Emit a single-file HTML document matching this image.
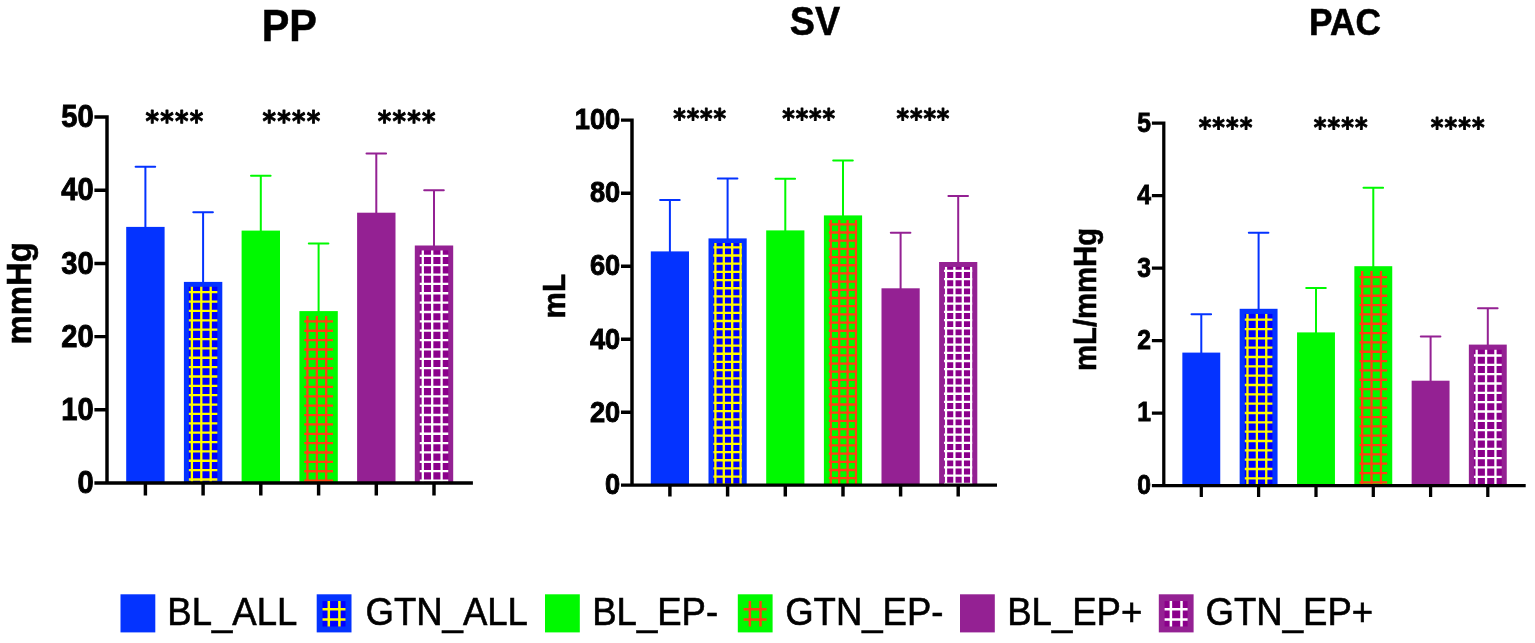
<!DOCTYPE html>
<html lang="en"><head><meta charset="utf-8"><title>PP, SV, PAC bar charts</title>
<style>html,body{margin:0;padding:0;background:#fff;}body{width:1535px;height:643px;overflow:hidden;}svg{display:block;}text{font-family:"Liberation Sans",sans-serif;fill:#000;}.tk{font-weight:bold;text-anchor:end;}.ti{font-weight:bold;text-anchor:middle;}.yl{font-weight:bold;text-anchor:middle;}.st{font-family:"DejaVu Sans","Liberation Sans",sans-serif;font-weight:bold;stroke:#000;stroke-width:0.9px;stroke-linejoin:round;stroke-linecap:round;}.lg{stroke:#000;stroke-width:0.6px;}.ti,.yl{stroke:#000;stroke-width:0.55px;}.tk{stroke:#000;stroke-width:0.9px;}</style></head><body>
<svg width="1535" height="643" viewBox="0 0 1535 643">
<rect width="1535" height="643" fill="#fff"/>
<g id="chart-a">
<text class="ti" style="font-size:44.99px" transform="translate(289.3 40.8) scale(0.92 1)">PP</text>
<text class="yl" style="font-size:34.32px" transform="translate(30.5 293.3) rotate(-90) scale(0.96 1)">mmHg</text>
<path d="M145.4 229.9V166.8M135.6 166.8H155.2" stroke="#0433ff" stroke-width="2" stroke-linecap="round" fill="none"/>
<rect x="126.2" y="226.9" width="38.4" height="256.1" fill="#0433ff"/>
<path d="M203.1 284.9V212.3M193.3 212.3H212.9" stroke="#0433ff" stroke-width="2" stroke-linecap="round" fill="none"/>
<rect x="183.9" y="281.9" width="38.4" height="201.1" fill="#0433ff"/>
<clipPath id="cpa1"><rect x="188.6" y="286.6" width="29" height="196.4"/></clipPath>
<g clip-path="url(#cpa1)">
<rect x="188.6" y="286.6" width="29" height="196.4" fill="#0000ff"/>
<path d="M191.9 286.6V483M201.3 286.6V483M210.7 286.6V483M188.6 292.2H217.6M188.6 301.56H217.6M188.6 310.93H217.6M188.6 320.3H217.6M188.6 329.66H217.6M188.6 339.03H217.6M188.6 348.39H217.6M188.6 357.76H217.6M188.6 367.12H217.6M188.6 376.49H217.6M188.6 385.85H217.6M188.6 395.22H217.6M188.6 404.58H217.6M188.6 413.95H217.6M188.6 423.31H217.6M188.6 432.68H217.6M188.6 442.04H217.6M188.6 451.41H217.6M188.6 460.77H217.6M188.6 470.14H217.6M188.6 479.5H217.6" stroke="#fffb00" stroke-width="2.3" fill="none"/>
</g>
<path d="M260.8 233.6V175.7M251 175.7H270.6" stroke="#00f900" stroke-width="2" stroke-linecap="round" fill="none"/>
<rect x="241.6" y="230.6" width="38.4" height="252.4" fill="#00f900"/>
<path d="M318.6 314.1V243.4M308.8 243.4H328.4" stroke="#00f900" stroke-width="2" stroke-linecap="round" fill="none"/>
<rect x="299.4" y="311.1" width="38.4" height="171.9" fill="#00f900"/>
<clipPath id="cpa3"><rect x="304.1" y="315.8" width="29" height="167.2"/></clipPath>
<g clip-path="url(#cpa3)">
<path d="M307.4 315.8V483M316.8 315.8V483M326.2 315.8V483M304.1 321.4H333.1M304.1 330.77H333.1M304.1 340.13H333.1M304.1 349.5H333.1M304.1 358.86H333.1M304.1 368.23H333.1M304.1 377.59H333.1M304.1 386.96H333.1M304.1 396.32H333.1M304.1 405.69H333.1M304.1 415.05H333.1M304.1 424.42H333.1M304.1 433.78H333.1M304.1 443.15H333.1M304.1 452.51H333.1M304.1 461.88H333.1M304.1 471.24H333.1M304.1 480.61H333.1" stroke="#ff4013" stroke-width="2.3" fill="none"/>
</g>
<path d="M376.3 215.7V153.6M366.5 153.6H386.1" stroke="#942193" stroke-width="2" stroke-linecap="round" fill="none"/>
<rect x="357.1" y="212.7" width="38.4" height="270.3" fill="#942193"/>
<path d="M434 248.5V190.2M424.2 190.2H443.8" stroke="#942193" stroke-width="2" stroke-linecap="round" fill="none"/>
<rect x="414.8" y="245.5" width="38.4" height="237.5" fill="#942193"/>
<clipPath id="cpa5"><rect x="419.5" y="250.2" width="29" height="232.8"/></clipPath>
<g clip-path="url(#cpa5)">
<rect x="419.5" y="250.2" width="29" height="232.8" fill="#8b008b"/>
<path d="M422.8 250.2V483M432.2 250.2V483M441.6 250.2V483M419.5 255.8H448.5M419.5 265.17H448.5M419.5 274.53H448.5M419.5 283.9H448.5M419.5 293.26H448.5M419.5 302.63H448.5M419.5 311.99H448.5M419.5 321.36H448.5M419.5 330.72H448.5M419.5 340.09H448.5M419.5 349.45H448.5M419.5 358.82H448.5M419.5 368.18H448.5M419.5 377.55H448.5M419.5 386.91H448.5M419.5 396.28H448.5M419.5 405.64H448.5M419.5 415.01H448.5M419.5 424.37H448.5M419.5 433.74H448.5M419.5 443.1H448.5M419.5 452.47H448.5M419.5 461.83H448.5M419.5 471.2H448.5M419.5 480.56H448.5" stroke="#ffffff" stroke-width="2.3" fill="none"/>
</g>
<path d="M107 115.2V484.73M105.28 483H472.9M94.4 117H107M94.4 190.2H107M94.4 263.4H107M94.4 336.6H107M94.4 409.8H107M94.4 483H107M145.4 483V495.5M203.1 483V495.5M260.8 483V495.5M318.6 483V495.5M376.3 483V495.5M434 483V495.5" stroke="#000" stroke-width="3.45" fill="none"/>
<text class="tk" style="font-size:31px" transform="translate(93.68 127.11) scale(0.94 1)">50</text>
<text class="tk" style="font-size:31px" transform="translate(93.68 200.31) scale(0.94 1)">40</text>
<text class="tk" style="font-size:31px" transform="translate(93.68 273.51) scale(0.94 1)">30</text>
<text class="tk" style="font-size:31px" transform="translate(93.68 346.71) scale(0.94 1)">20</text>
<text class="tk" style="font-size:31px" transform="translate(93.68 419.91) scale(0.94 1)">10</text>
<text class="tk" style="font-size:31px" transform="translate(93.68 493.11) scale(0.94 1)">0</text>
<text class="st" style="font-size:28.6px" transform="translate(145.49 131.03) scale(0.9 1)" x="0 16.42 32.84 49.26" y="0">****</text>
<text class="st" style="font-size:28.6px" transform="translate(262.54 131.03) scale(0.9 1)" x="0 16.42 32.84 49.26" y="0">****</text>
<text class="st" style="font-size:28.6px" transform="translate(377.74 131.03) scale(0.9 1)" x="0 16.42 32.84 49.26" y="0">****</text>
</g>
<g id="chart-b">
<text class="ti" style="font-size:40.99px" transform="translate(815 34.9) scale(0.92 1)">SV</text>
<text class="yl" style="font-size:30.89px" transform="translate(565.4 296.2) rotate(-90) scale(0.96 1)">mL</text>
<path d="M669.9 254.4V200M660.1 200H679.7" stroke="#0433ff" stroke-width="2" stroke-linecap="round" fill="none"/>
<rect x="650.8" y="251.4" width="38.2" height="233.7" fill="#0433ff"/>
<path d="M727.6 241.4V178.4M717.8 178.4H737.4" stroke="#0433ff" stroke-width="2" stroke-linecap="round" fill="none"/>
<rect x="708.5" y="238.4" width="38.2" height="246.7" fill="#0433ff"/>
<clipPath id="cpb1"><rect x="713.2" y="243.1" width="28.8" height="242"/></clipPath>
<g clip-path="url(#cpb1)">
<rect x="713.2" y="243.1" width="28.8" height="242" fill="#0000ff"/>
<path d="M715.4 243.1V485.1M723.8 243.1V485.1M732.2 243.1V485.1M740.6 243.1V485.1M713.2 247.3H742M713.2 255.49H742M713.2 263.68H742M713.2 271.87H742M713.2 280.06H742M713.2 288.25H742M713.2 296.44H742M713.2 304.63H742M713.2 312.82H742M713.2 321.01H742M713.2 329.2H742M713.2 337.39H742M713.2 345.58H742M713.2 353.77H742M713.2 361.96H742M713.2 370.15H742M713.2 378.34H742M713.2 386.53H742M713.2 394.72H742M713.2 402.91H742M713.2 411.1H742M713.2 419.29H742M713.2 427.48H742M713.2 435.67H742M713.2 443.86H742M713.2 452.05H742M713.2 460.24H742M713.2 468.43H742M713.2 476.62H742M713.2 484.81H742" stroke="#fffb00" stroke-width="2.3" fill="none"/>
</g>
<path d="M785.3 233.4V178.7M775.5 178.7H795.1" stroke="#00f900" stroke-width="2" stroke-linecap="round" fill="none"/>
<rect x="766.2" y="230.4" width="38.2" height="254.7" fill="#00f900"/>
<path d="M843 218.4V160.4M833.2 160.4H852.8" stroke="#00f900" stroke-width="2" stroke-linecap="round" fill="none"/>
<rect x="823.9" y="215.4" width="38.2" height="269.7" fill="#00f900"/>
<clipPath id="cpb3"><rect x="828.6" y="220.1" width="28.8" height="265"/></clipPath>
<g clip-path="url(#cpb3)">
<path d="M830.8 220.1V485.1M839.2 220.1V485.1M847.6 220.1V485.1M856 220.1V485.1M828.6 224.3H857.4M828.6 232.49H857.4M828.6 240.68H857.4M828.6 248.87H857.4M828.6 257.06H857.4M828.6 265.25H857.4M828.6 273.44H857.4M828.6 281.63H857.4M828.6 289.82H857.4M828.6 298.01H857.4M828.6 306.2H857.4M828.6 314.39H857.4M828.6 322.58H857.4M828.6 330.77H857.4M828.6 338.96H857.4M828.6 347.15H857.4M828.6 355.34H857.4M828.6 363.53H857.4M828.6 371.72H857.4M828.6 379.91H857.4M828.6 388.1H857.4M828.6 396.29H857.4M828.6 404.48H857.4M828.6 412.67H857.4M828.6 420.86H857.4M828.6 429.05H857.4M828.6 437.24H857.4M828.6 445.43H857.4M828.6 453.62H857.4M828.6 461.81H857.4M828.6 470H857.4M828.6 478.19H857.4" stroke="#ff4013" stroke-width="2.3" fill="none"/>
</g>
<path d="M900.6 291.3V232.8M890.8 232.8H910.4" stroke="#942193" stroke-width="2" stroke-linecap="round" fill="none"/>
<rect x="881.5" y="288.3" width="38.2" height="196.8" fill="#942193"/>
<path d="M958.2 265V196.1M948.4 196.1H968" stroke="#942193" stroke-width="2" stroke-linecap="round" fill="none"/>
<rect x="939.1" y="262" width="38.2" height="223.1" fill="#942193"/>
<clipPath id="cpb5"><rect x="943.8" y="266.7" width="28.8" height="218.4"/></clipPath>
<g clip-path="url(#cpb5)">
<rect x="943.8" y="266.7" width="28.8" height="218.4" fill="#8b008b"/>
<path d="M946 266.7V485.1M954.4 266.7V485.1M962.8 266.7V485.1M971.2 266.7V485.1M943.8 270.9H972.6M943.8 279.09H972.6M943.8 287.28H972.6M943.8 295.47H972.6M943.8 303.66H972.6M943.8 311.85H972.6M943.8 320.04H972.6M943.8 328.23H972.6M943.8 336.42H972.6M943.8 344.61H972.6M943.8 352.8H972.6M943.8 360.99H972.6M943.8 369.18H972.6M943.8 377.37H972.6M943.8 385.56H972.6M943.8 393.75H972.6M943.8 401.94H972.6M943.8 410.13H972.6M943.8 418.32H972.6M943.8 426.51H972.6M943.8 434.7H972.6M943.8 442.89H972.6M943.8 451.08H972.6M943.8 459.27H972.6M943.8 467.46H972.6M943.8 475.65H972.6M943.8 483.84H972.6" stroke="#ffffff" stroke-width="2.3" fill="none"/>
</g>
<path d="M632 118.4V486.83M630.27 485.1H997M621 120.1H632M621 193.2H632M621 266.2H632M621 339.3H632M621 412.3H632M621 485.1H632M669.9 485.1V496.6M727.6 485.1V496.6M785.3 485.1V496.6M843 485.1V496.6M900.6 485.1V496.6M958.2 485.1V496.6" stroke="#000" stroke-width="3.45" fill="none"/>
<text class="tk" style="font-size:29px" transform="translate(620.22 129.31) scale(0.94 1)">100</text>
<text class="tk" style="font-size:29px" transform="translate(620.22 202.41) scale(0.94 1)">80</text>
<text class="tk" style="font-size:29px" transform="translate(620.22 275.41) scale(0.94 1)">60</text>
<text class="tk" style="font-size:29px" transform="translate(620.22 348.51) scale(0.94 1)">40</text>
<text class="tk" style="font-size:29px" transform="translate(620.22 421.51) scale(0.94 1)">20</text>
<text class="tk" style="font-size:29px" transform="translate(620.22 494.31) scale(0.94 1)">0</text>
<text class="st" style="font-size:26.6px" transform="translate(673.23 127.7) scale(0.9 1)" x="0 14.93 29.85 44.78" y="0">****</text>
<text class="st" style="font-size:26.6px" transform="translate(782.23 127.7) scale(0.9 1)" x="0 14.93 29.85 44.78" y="0">****</text>
<text class="st" style="font-size:26.6px" transform="translate(896.53 127.7) scale(0.9 1)" x="0 14.93 29.85 44.78" y="0">****</text>
</g>
<g id="chart-c">
<text class="ti" style="font-size:36.71px" transform="translate(1345 35.2) scale(0.96 1)">PAC</text>
<text class="yl" style="font-size:30.47px" transform="translate(1096.1 299.4) rotate(-90) scale(0.96 1)">mL/mmHg</text>
<path d="M1201.3 355.6V314.2M1191.5 314.2H1211.1" stroke="#0433ff" stroke-width="2" stroke-linecap="round" fill="none"/>
<rect x="1182.35" y="352.6" width="37.9" height="132.9" fill="#0433ff"/>
<path d="M1258.6 311.8V232.7M1248.8 232.7H1268.4" stroke="#0433ff" stroke-width="2" stroke-linecap="round" fill="none"/>
<rect x="1239.65" y="308.8" width="37.9" height="176.7" fill="#0433ff"/>
<clipPath id="cpc1"><rect x="1244.55" y="313.7" width="28.1" height="171.8"/></clipPath>
<g clip-path="url(#cpc1)">
<rect x="1244.55" y="313.7" width="28.1" height="171.8" fill="#0000ff"/>
<path d="M1247.45 313.7V485.5M1256.85 313.7V485.5M1266.25 313.7V485.5M1244.55 319.7H1272.65M1244.55 329.03H1272.65M1244.55 338.36H1272.65M1244.55 347.69H1272.65M1244.55 357.02H1272.65M1244.55 366.35H1272.65M1244.55 375.68H1272.65M1244.55 385.01H1272.65M1244.55 394.34H1272.65M1244.55 403.67H1272.65M1244.55 413H1272.65M1244.55 422.33H1272.65M1244.55 431.66H1272.65M1244.55 440.99H1272.65M1244.55 450.32H1272.65M1244.55 459.65H1272.65M1244.55 468.98H1272.65M1244.55 478.31H1272.65" stroke="#fffb00" stroke-width="2.3" fill="none"/>
</g>
<path d="M1316 335.4V288M1306.2 288H1325.8" stroke="#00f900" stroke-width="2" stroke-linecap="round" fill="none"/>
<rect x="1297.05" y="332.4" width="37.9" height="153.1" fill="#00f900"/>
<path d="M1373.3 269.2V187.8M1363.5 187.8H1383.1" stroke="#00f900" stroke-width="2" stroke-linecap="round" fill="none"/>
<rect x="1354.35" y="266.2" width="37.9" height="219.3" fill="#00f900"/>
<clipPath id="cpc3"><rect x="1359.25" y="271.1" width="28.1" height="214.4"/></clipPath>
<g clip-path="url(#cpc3)">
<path d="M1362.15 271.1V485.5M1371.55 271.1V485.5M1380.95 271.1V485.5M1359.25 277.1H1387.35M1359.25 286.43H1387.35M1359.25 295.76H1387.35M1359.25 305.09H1387.35M1359.25 314.42H1387.35M1359.25 323.75H1387.35M1359.25 333.08H1387.35M1359.25 342.41H1387.35M1359.25 351.74H1387.35M1359.25 361.07H1387.35M1359.25 370.4H1387.35M1359.25 379.73H1387.35M1359.25 389.06H1387.35M1359.25 398.39H1387.35M1359.25 407.72H1387.35M1359.25 417.05H1387.35M1359.25 426.38H1387.35M1359.25 435.71H1387.35M1359.25 445.04H1387.35M1359.25 454.37H1387.35M1359.25 463.7H1387.35M1359.25 473.03H1387.35M1359.25 482.36H1387.35" stroke="#ff4013" stroke-width="2.3" fill="none"/>
</g>
<path d="M1430.6 383.7V336.6M1420.8 336.6H1440.4" stroke="#942193" stroke-width="2" stroke-linecap="round" fill="none"/>
<rect x="1411.65" y="380.7" width="37.9" height="104.8" fill="#942193"/>
<path d="M1487.8 347.6V308.3M1478 308.3H1497.6" stroke="#942193" stroke-width="2" stroke-linecap="round" fill="none"/>
<rect x="1468.85" y="344.6" width="37.9" height="140.9" fill="#942193"/>
<clipPath id="cpc5"><rect x="1473.75" y="349.5" width="28.1" height="136"/></clipPath>
<g clip-path="url(#cpc5)">
<rect x="1473.75" y="349.5" width="28.1" height="136" fill="#8b008b"/>
<path d="M1476.65 349.5V485.5M1486.05 349.5V485.5M1495.45 349.5V485.5M1473.75 355.5H1501.85M1473.75 364.83H1501.85M1473.75 374.16H1501.85M1473.75 383.49H1501.85M1473.75 392.82H1501.85M1473.75 402.15H1501.85M1473.75 411.48H1501.85M1473.75 420.81H1501.85M1473.75 430.14H1501.85M1473.75 439.47H1501.85M1473.75 448.8H1501.85M1473.75 458.13H1501.85M1473.75 467.46H1501.85M1473.75 476.79H1501.85M1473.75 486.12H1501.85" stroke="#ffffff" stroke-width="2.3" fill="none"/>
</g>
<path d="M1163.8 121.5V487.12M1162.17 485.5H1525.7M1151.9 123.2H1163.8M1151.9 195.7H1163.8M1151.9 268.1H1163.8M1151.9 340.6H1163.8M1151.9 413H1163.8M1151.9 485.5H1163.8M1201.3 485.5V496.9M1258.6 485.5V496.9M1316 485.5V496.9M1373.3 485.5V496.9M1430.6 485.5V496.9M1487.8 485.5V496.9" stroke="#000" stroke-width="3.25" fill="none"/>
<text class="tk" style="font-size:27.7px" transform="translate(1150.97 131.65) scale(0.89 1)">5</text>
<text class="tk" style="font-size:27.7px" transform="translate(1150.97 204.15) scale(0.89 1)">4</text>
<text class="tk" style="font-size:27.7px" transform="translate(1150.97 276.55) scale(0.89 1)">3</text>
<text class="tk" style="font-size:27.7px" transform="translate(1150.97 349.05) scale(0.89 1)">2</text>
<text class="tk" style="font-size:27.7px" transform="translate(1150.97 421.45) scale(0.89 1)">1</text>
<text class="tk" style="font-size:27.7px" transform="translate(1150.97 493.95) scale(0.89 1)">0</text>
<text class="st" style="font-size:26.8px" transform="translate(1198.67 136.6) scale(0.9 1)" x="0 15.23 30.45 45.68" y="0">****</text>
<text class="st" style="font-size:26.8px" transform="translate(1313.87 136.6) scale(0.9 1)" x="0 15.23 30.45 45.68" y="0">****</text>
<text class="st" style="font-size:26.8px" transform="translate(1430.77 136.6) scale(0.9 1)" x="0 15.23 30.45 45.68" y="0">****</text>
</g>
<g id="legend">
<rect x="120.5" y="594.3" width="34.8" height="38.1" fill="#0433ff"/>
<text class="lg" style="font-size:38.06px" transform="translate(167.3 625.3) scale(0.96 1)">BL_ALL</text>
<rect x="316.7" y="594.3" width="34.8" height="38.1" fill="#0433ff"/>
<rect x="322.5" y="601.1" width="23" height="25.4" fill="#0000ff"/>
<path d="M328.8 601.1V626.5M339.4 601.1V626.5M322.5 609.2H345.5M322.5 619.6H345.5" stroke="#fffb00" stroke-width="2.5" fill="none"/>
<text class="lg" style="font-size:38.06px" transform="translate(365.5 625.3) scale(0.96 1)">GTN_ALL</text>
<rect x="545" y="594.3" width="34.8" height="38.1" fill="#00f900"/>
<text class="lg" style="font-size:38.06px" transform="translate(592.2 625.3) scale(0.96 1)">BL_EP-</text>
<rect x="737.8" y="594.3" width="34.8" height="38.1" fill="#00f900"/>
<path d="M749.9 601.1V626.5M760.5 601.1V626.5M743.6 609.2H766.6M743.6 619.6H766.6" stroke="#ff4013" stroke-width="2.5" fill="none"/>
<text class="lg" style="font-size:38.06px" transform="translate(785.2 625.3) scale(0.96 1)">GTN_EP-</text>
<rect x="960" y="594.3" width="34.8" height="38.1" fill="#942193"/>
<text class="lg" style="font-size:38.06px" transform="translate(1007.2 625.3) scale(0.96 1)">BL_EP+</text>
<rect x="1158.8" y="594.3" width="34.8" height="38.1" fill="#942193"/>
<rect x="1164.6" y="601.1" width="23" height="25.4" fill="#8b008b"/>
<path d="M1170.9 601.1V626.5M1181.5 601.1V626.5M1164.6 609.2H1187.6M1164.6 619.6H1187.6" stroke="#ffffff" stroke-width="2.5" fill="none"/>
<text class="lg" style="font-size:38.06px" transform="translate(1205.6 625.3) scale(0.96 1)">GTN_EP+</text>
</g>
</svg></body></html>
